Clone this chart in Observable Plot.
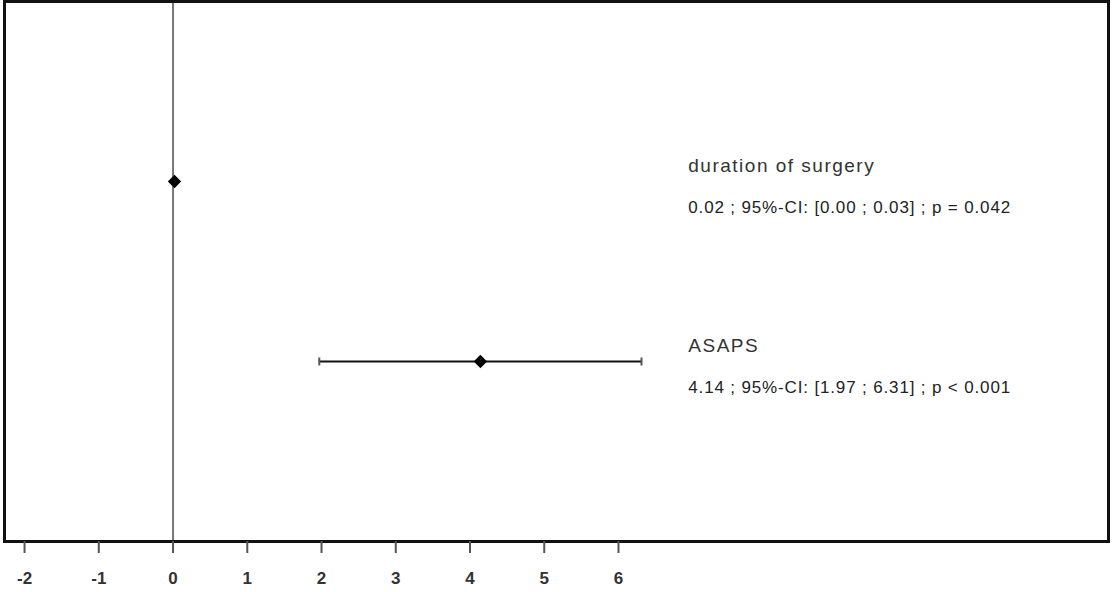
<!DOCTYPE html>
<html>
<head>
<meta charset="utf-8">
<script src="https://cdn.jsdelivr.net/npm/d3@7"></script>
<script src="https://cdn.jsdelivr.net/npm/@observablehq/plot@0.6"></script>
<style>
  html, body { margin: 0; padding: 0; background: #fff; }
  #chart svg { display: block; }
</style>
</head>
<body>
<div id="chart"></div>
<script>
// Data
const variables = ["duration of surgery", "ASAPS"];
const rows = [1, 2];
const estimates = [0.02, 4.14];
const ciLow = [0.00, 1.97];
const ciHigh = [0.03, 6.31];
const statLabels = [
  "0.02 ; 95%-CI: [0.00 ; 0.03] ; p = 0.042",
  "4.14 ; 95%-CI: [1.97 ; 6.31] ; p < 0.001"
];
const xTicks = [-2, -1, 0, 1, 2, 3, 4, 5, 6];

const data = variables.map((v, i) => ({
  name: v, row: rows[i], est: estimates[i], lo: ciLow[i], hi: ciHigh[i], stat: statLabels[i]
}));

const labelX = 6.94;
const capSymbol = {
  draw(ctx, size) {
    const r = Math.sqrt(size) / 2;
    ctx.moveTo(0, -r);
    ctx.lineTo(0, r);
  }
};

const plot = Plot.plot({
  width: 1112,
  height: 592,
  marginLeft: 4,
  marginRight: 4,
  marginTop: 1,
  marginBottom: 51,
  style: { fontFamily: "Liberation Sans, Arial, sans-serif", background: "#fff" },
  x: { domain: [-2.27, 12.6] },
  y: { domain: [0, 3], reverse: true, axis: null },
  marks: [
    Plot.ruleX([0], { stroke: "#777", strokeWidth: 2 }),
    Plot.ruleY(data, { y: "row", x1: "lo", x2: "hi", stroke: "#111", strokeWidth: 2 }),
    Plot.dot(data.flatMap(d => [{ x: d.lo, row: d.row }, { x: d.hi, row: d.row }]),
      { x: "x", y: "row", symbol: capSymbol, r: 4.5, stroke: "#555", strokeWidth: 2 }),
    Plot.dot(data, { x: "est", y: "row", symbol: "diamond2", r: 6, fill: "#000", stroke: "none" }),
    Plot.text(data, { x: () => labelX, y: "row", text: "name", textAnchor: "start", dy: -16,
      fontSize: 19, fill: "#333" }),
    Plot.text(data, { x: () => labelX, y: "row", text: "stat", textAnchor: "start", dy: 26,
      fontSize: 17, fill: "#222" }),
    Plot.frame({ stroke: "#111", strokeWidth: 3 }),
    Plot.axisX({ ticks: xTicks, tickFormat: d => String(d), tickSize: 12, tickPadding: 18,
      stroke: "#555", strokeWidth: 2, fontSize: 17, fontWeight: "bold", fill: "#333", label: null })
  ]
});
d3.select(plot).selectAll("text")
  .filter(function () { return variables.includes(this.textContent); })
  .style("letter-spacing", "1.5px");
d3.select(plot).selectAll("text")
  .filter(function () { return statLabels.includes(this.textContent); })
  .style("letter-spacing", "0.85px");
document.getElementById("chart").append(plot);
</script>
</body>
</html>
